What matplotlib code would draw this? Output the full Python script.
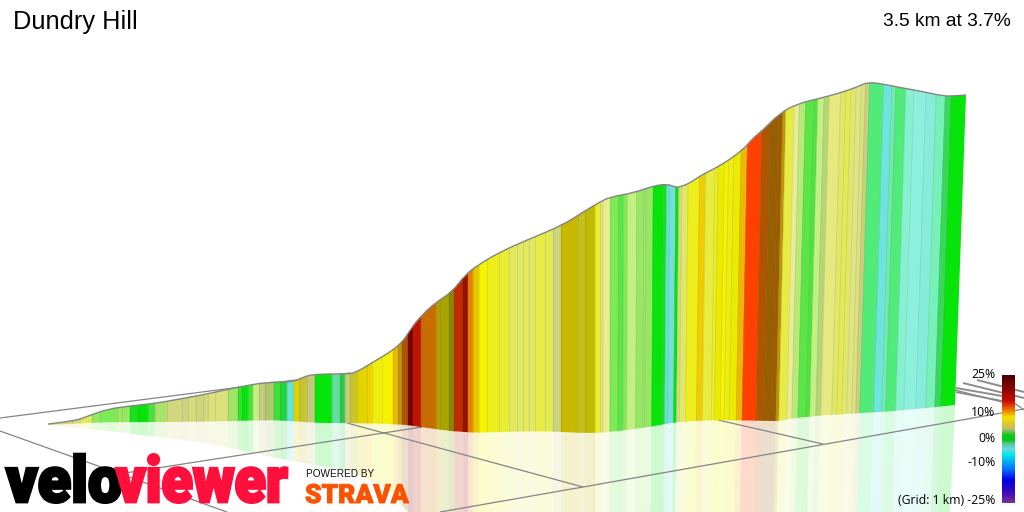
import numpy as np
import matplotlib
matplotlib.use("Agg")
import matplotlib.pyplot as plt
from matplotlib.collections import PolyCollection, LineCollection
from matplotlib.colors import LinearSegmentedColormap, Normalize
from matplotlib.patches import Polygon, PathPatch
from matplotlib.path import Path
from matplotlib.patheffects import AbstractPathEffect
from matplotlib.transforms import Affine2D

# ---- data (screen pixels of the 3D view) ----
ridge_x = [48, 75, 88, 108, 130, 158, 185, 212, 238, 268, 294, 303, 315, 345, 355, 370, 400, 412, 422, 435,
           452, 465, 478, 500, 527, 563, 583, 600, 610, 633, 653, 667, 675, 680, 690, 703, 720, 743, 753, 762,
           780, 797, 817, 840, 857, 868, 883, 897, 920, 943, 953, 966]
ridge_y = [424, 421, 416, 409, 406, 403, 398, 393, 387, 382, 382, 377, 374, 374, 373, 364, 346, 327, 315, 303,
           292, 275, 265, 252, 240, 225, 212, 202, 197, 193, 186, 184, 187, 187, 183, 174, 166, 150, 138, 131,
           113, 104, 99, 93, 87, 82, 84, 87, 91, 96, 96, 95]
base_x = [48, 85, 120, 200, 265, 293, 315, 345, 400, 420, 465, 500, 550, 595, 650, 670, 690, 720, 770, 780,
          800, 860, 900, 955]
base_y = [425, 423, 422, 422, 420, 421, 423, 423, 424, 427, 433, 432, 431, 434, 427, 423, 421, 420, 421, 421,
          417, 413, 411, 405]

strip_start = [48, 72, 80, 92, 100, 117, 122, 130, 138, 148, 155, 167, 182, 188, 196, 203, 208, 215, 228, 238,
               242, 248, 253, 259, 265, 274, 280, 287, 292, 294, 299, 307, 315, 332, 340, 345, 350, 357, 367, 372,
               382, 393, 398, 402, 408, 413, 421, 436, 440, 449, 454, 463, 468, 473, 479, 487, 499, 509, 517, 523,
               529, 535, 545, 553, 561, 578, 585, 595, 600, 603, 610, 618, 623, 627, 636, 643, 645, 652, 661, 665,
               668, 674, 677, 680, 686, 697, 703, 712, 715, 721, 725, 730, 737, 743, 757, 765, 773, 777, 780, 788,
               793, 799, 807, 811, 817, 822, 833, 838, 843, 848, 853, 857, 861, 875, 883, 887, 897, 905, 917, 927,
               936, 942, 962]
strip_grade = [4.0, 4.0, 5.2, 2.0, 1.5, 2.2, 2.0, 0.4, 0.0, 1.0, 2.5, 4.0, 3.9, 4.1, 3.9, 4.0, 4.3, 4.3, 2.3, 0.8,
               0.0, 1.0, 3.0, 3.7, 3.3, 0.9, -0.4, -4.3, -4.0, 8.5, 9.2, 3.6, 0.0, -1.5, -0.5, 3.7, 9.2, 8.5, 7.5, 6.2,
               7.0, 8.0, 9.7, 12.0, 17.0, 15.0, 11.5, 9.8, 10.0, 10.5, 14.0, 16.0, 11.0, 8.2, 7.0, 6.0, 5.7, 5.2, 5.0, 5.2,
               5.0, 5.5, 5.3, 3.9, 9.0, 9.3, 9.5, 5.8, 5.0, 4.6, 1.5, 1.2, 1.6, 3.0, 2.0, 2.4, 2.0, 0.0, 0.3, -4.4,
               -3.7, 0.0, 4.1, 5.0, 6.0, 7.6, 5.6, 5.8, 6.5, 7.0, 6.2, 6.5, 8.0, 13.0, 12.0, 12.5, 12.3, 9.7, 5.5, 4.6,
               2.8, 1.2, 1.1, 3.0, 3.2, 4.8, 5.0, 5.3, 5.0, 4.4, 4.3, 3.8, -1.0, -4.0, -1.8, -1.0, -2.7, -3.0, -3.1, -2.0,
               -0.7, 0.0]

scale_labels = ["25%", "10%", "0%", "-10%", "(Grid: 1 km) -25%"]
scale_label_y = [375, 413, 438, 463, 501]

title = "Dundry Hill"
subtitle = "3.5 km at 3.7%"

# ---- styles ----
strip_stops = [
    (-5.0, (0, 230, 230)), (-4.5, (100, 225, 205)), (-4, (110, 228, 222)), (-3.5, (120, 220, 215)),
    (-3, (140, 240, 220)), (-2, (120, 240, 185)), (-1.5, (100, 220, 160)), (-1, (80, 235, 120)),
    (-0.5, (40, 205, 70)), (0, (5, 228, 8)), (0.5, (30, 222, 35)), (1, (70, 225, 60)),
    (1.5, (125, 235, 85)), (2, (150, 232, 100)), (2.5, (170, 225, 105)), (3, (195, 240, 130)),
    (3.3, (175, 200, 110)), (3.6, (195, 200, 125)), (4, (210, 215, 125)), (4.3, (220, 225, 125)),
    (4.6, (235, 235, 150)), (5, (225, 232, 105)), (5.5, (230, 235, 70)), (6, (238, 238, 30)),
    (6.5, (235, 235, 0)), (7, (247, 242, 0)), (7.5, (240, 210, 0)), (8, (235, 185, 0)),
    (8.5, (225, 212, 0)), (9, (200, 185, 0)), (9.2, (200, 195, 50)), (9.5, (190, 185, 0)),
    (9.7, (190, 150, 0)), (10, (170, 165, 0)), (10.5, (135, 135, 0)), (11, (230, 130, 0)),
    (11.5, (200, 110, 0)), (12, (175, 85, 0)), (12.5, (150, 95, 0)), (13, (255, 65, 0)),
    (14, (190, 45, 0)), (15, (190, 20, 0)), (16, (150, 15, 0)), (17, (120, 0, 0)),
]
bar_stops = [
    (-25, (120, 50, 150)), (-21, (60, 10, 190)), (-16, (0, 0, 230)), (-12, (0, 110, 255)), (-6, (0, 235, 235)),
    (-4, (110, 215, 215)), (-2, (90, 200, 170)), (-0.5, (10, 200, 20)), (1.5, (10, 200, 30)), (4, (190, 190, 110)),
    (6, (225, 200, 40)), (8.5, (240, 230, 0)), (11, (240, 130, 0)), (15, (200, 10, 0)), (25, (70, 0, 0)),
]


def make_cmap(stops):
    lo, hi = stops[0][0], stops[-1][0]
    return LinearSegmentedColormap.from_list(
        "c", [((g - lo) / (hi - lo), tuple(v / 255 for v in c)) for g, c in stops], N=1024), Normalize(lo, hi)


def smooth(pts):
    """Quadratic Bezier through the midpoints of a control polygon."""
    verts, codes = [pts[0]], [Path.LINETO]
    for i in range(1, len(pts) - 1):
        mid = ((pts[i][0] + pts[i + 1][0]) / 2, (pts[i][1] + pts[i + 1][1]) / 2)
        verts += [pts[i], mid]
        codes += [Path.CURVE3, Path.CURVE3]
    verts.append(pts[-1])
    codes.append(Path.LINETO)
    return verts, codes


class HText(AbstractPathEffect):
    """Scale a text horizontally about its anchor and optionally fatten it."""

    def __init__(self, s, fatten=0.0):
        super().__init__()
        self.s, self.fatten = s, fatten

    def draw_path(self, renderer, gc, tpath, affine, rgbFace=None):
        m = affine.get_matrix().copy()
        m[0, 0] *= self.s
        gc0 = renderer.new_gc()
        gc0.copy_properties(gc)
        if self.fatten:
            gc0.set_linewidth(self.fatten)
            gc0.set_foreground(rgbFace)
            gc0.set_joinstyle("miter")
        renderer.draw_path(gc0, tpath, Affine2D(m), rgbFace)
        gc0.restore()


fig = plt.figure(figsize=(10.24, 5.12), dpi=100)
ax = fig.add_axes([0, 0, 1, 1])
ax.set_xlim(0, 1024)
ax.set_ylim(512, 0)
ax.axis("off")

edges = np.array(strip_start, float)
slant = np.interp(edges, [600, 650, 740, 860, 965], [0, 0.006, 0.019, 0.03, 0.035])
y_hi, y_lo, y_ref = 40.0, 512.0, 370.0
x_hi = edges + slant * (y_ref - y_hi)
x_lo = edges + slant * (y_ref - y_lo)
quads = [[(x_hi[i], y_hi), (x_hi[i + 1], y_hi), (x_lo[i + 1], y_lo), (x_lo[i], y_lo)] for i in range(len(edges) - 1)]
cmap, norm = make_cmap(strip_stops)
colors = cmap(norm(np.array(strip_grade)))
pale = colors.copy()
pale[:, :3] = 1 - 0.2 * (1 - colors[:, :3])

ridge = list(zip(ridge_x, ridge_y))
base = list(zip(base_x, base_y))
rv, rc = smooth(ridge)
bv, bc = smooth(base[::-1])
hill_verts = rv + bv + [ridge[0]]
hill_codes = [Path.MOVETO] + rc[1:] + bc + [Path.CLOSEPOLY]
hill_patch = PathPatch(Path(hill_verts, hill_codes), transform=ax.transData)
bv2, bc2 = smooth(base)
mirror_patch = PathPatch(Path(bv2 + [(950, 512), (48, 512), base[0]],
                              [Path.MOVETO] + bc2[1:] + [Path.LINETO, Path.LINETO, Path.CLOSEPOLY]),
                         transform=ax.transData)

# reflection on the ground
mirror = PolyCollection(quads, facecolors=pale, edgecolors=pale, linewidths=0.4, zorder=1)
ax.add_collection(mirror)
mirror.set_clip_path(mirror_patch)

# white halo behind the logos
ax.add_patch(Polygon([(0, 425), (50, 425), (100, 430), (200, 442), (287, 460), (343, 470), (383, 485),
                      (408, 512), (0, 512)], closed=True, fc="white", ec="none", zorder=2))

# ground grid
grid_lines = [
    [(0, 418), (350, 373)], [(0, 431), (227, 512)], [(347, 423), (583, 487)], [(440, 512), (583, 487), (1024, 409)],
    [(125, 473), (422, 427)], [(718, 420), (823, 444)], [(1013, 402), (1024, 410)], [(955, 390), (1002, 402)],
]
ax.add_collection(LineCollection(grid_lines, colors="#858585", linewidths=0.9, zorder=3))
thick_lines = [[(956, 388), (1002, 396)], [(963, 383), (1024, 398)], [(977, 380), (1024, 392)], [(956, 392), (1002, 401)]]
ax.add_collection(LineCollection(thick_lines, colors="#8c8c8c", linewidths=1.4, zorder=3))

# hill
hill = PolyCollection(quads, facecolors=colors, edgecolors=colors, linewidths=0.3, zorder=4)
ax.add_collection(hill)
hill.set_clip_path(hill_patch)
seams = LineCollection([[q[0], q[3]] for q in quads[1:]], colors=[(0.25, 0.3, 0.3, 0.14)], linewidths=0.6, zorder=5)
ax.add_collection(seams)
seams.set_clip_path(hill_patch)
ax.add_patch(PathPatch(Path(rv, [Path.MOVETO] + rc[1:]), fc="none", ec="#858585", lw=1.0, zorder=6))

# colour scale
bcmap, _ = make_cmap(bar_stops)
ax.imshow(np.linspace(1, 0, 256).reshape(-1, 1), cmap=bcmap, vmin=0, vmax=1, aspect="auto",
          extent=(1002, 1015, 503, 375), zorder=7, interpolation="bilinear")
ax.set_xlim(0, 1024)
ax.set_ylim(512, 0)
for lab, y in zip(scale_labels, scale_label_y):
    ax.text(995.5, y, lab, ha="right", va="center", fontsize=8.8, family="Open Sans", color="black", zorder=8)

# titles
ax.text(13, 29, title, ha="left", va="baseline", fontsize=18.3, family="Liberation Sans", color="black", zorder=8)
ax.text(1011, 26, subtitle, ha="right", va="baseline", fontsize=13.8, family="Liberation Sans", color="black", zorder=8)

# logos
ax.text(6, 502, "velo", ha="left", va="baseline", fontsize=46, family="Roboto", weight="black", color="black",
        zorder=9, path_effects=[HText(0.96, 2.0)])
ax.text(116, 502, "viewer", ha="left", va="baseline", fontsize=46, family="Roboto", weight="black", color="#ff0f3c",
        zorder=10, path_effects=[HText(0.9, 2.0)])
ax.text(306, 477, "POWERED BY", ha="left", va="baseline", fontsize=7.2, family="Liberation Sans", color="#111111", zorder=9)
ax.text(305, 503, "STRAVA", ha="left", va="baseline", fontsize=19, family="Roboto", weight="black", color="#fc5200",
        zorder=9, path_effects=[HText(1.0, 0.7)])

fig.savefig("out.png", dpi=100, facecolor="white")
